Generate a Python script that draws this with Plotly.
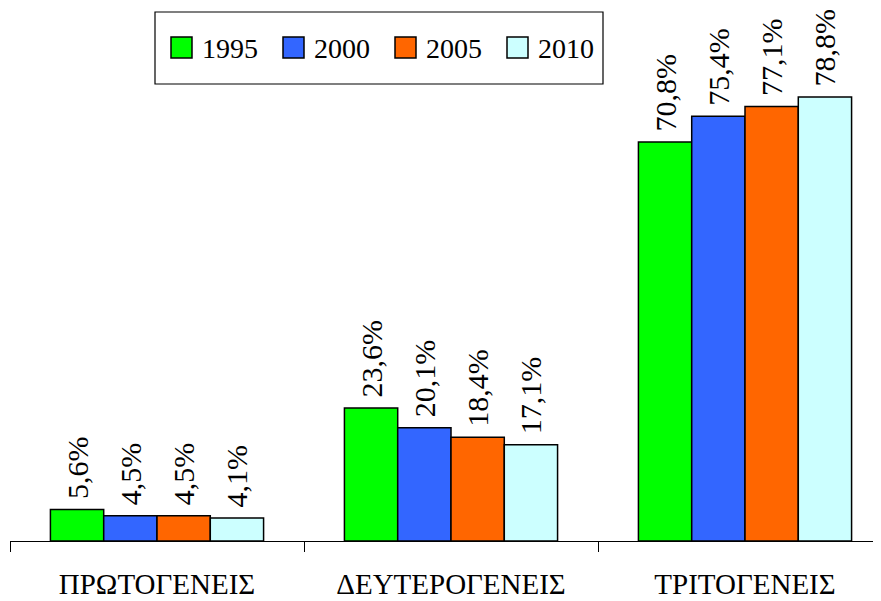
import plotly.graph_objects as go

categories = ["ΠΡΩΤΟΓΕΝΕΙΣ", "ΔΕΥΤΕΡΟΓΕΝΕΙΣ", "ΤΡΙΤΟΓΕΝΕΙΣ"]
years = ["1995", "2000", "2005", "2010"]
v1995 = [5.6, 23.6, 70.8]
v2000 = [4.5, 20.1, 75.4]
v2005 = [4.5, 18.4, 77.1]
v2010 = [4.1, 17.1, 78.8]
colors = ["#00FF00", "#3366FF", "#FF6600", "#CCFFFF"]

FONT = '"Liberation Serif", "Times New Roman", serif'
# page has an 8px body margin, so the figure is drawn 8px smaller and shifted
OFF = 8
W, H = 881 - OFF, 601 - OFF
ML, MR, MT, MB = 10 - OFF, 0, 0, 60


def px(x):
    '''page pixel x -> paper x'''
    return (x - OFF - ML) / (W - ML - MR)


def py(y):
    '''page pixel y -> paper y'''
    return (H - MB - (y - OFF)) / (H - MT - MB)


def pct(v):
    # leading nbsp gives the gap between bar top and the rotated label
    return "\u00a0" + "{:.1f}%".format(v).replace(".", ",")


fig = go.Figure()
for name, vals, col in zip(years, [v1995, v2000, v2005, v2010], colors):
    fig.add_trace(go.Bar(x=categories, y=vals, name=name,
                         marker=dict(color=col, line=dict(color="black", width=1.5)),
                         text=[pct(v) for v in vals], textposition="outside",
                         textangle=-90, cliponaxis=False, constraintext="none",
                         textfont=dict(family=FONT, size=30, color="black"),
                         showlegend=False))

# legend drawn by hand (box, swatches, labels)
shapes = [dict(type="rect", xref="paper", yref="paper",
               x0=px(155), x1=px(603), y0=py(84), y1=py(12),
               line=dict(color="black", width=1.2), fillcolor="white")]
annotations = []
for i, (name, col) in enumerate(zip(years, colors)):
    x0 = 171 + i * 112
    shapes.append(dict(type="rect", xref="paper", yref="paper",
                       x0=px(x0), x1=px(x0 + 21), y0=py(58), y1=py(37),
                       line=dict(color="black", width=1.5), fillcolor=col))
    annotations.append(dict(xref="paper", yref="paper", x=px(x0 + 29), y=py(48),
                            text=name, showarrow=False, xanchor="left", yanchor="middle",
                            font=dict(family=FONT, size=28, color="black")))

plot_h = H - MT - MB
fig.update_layout(
    width=W, height=H,
    margin=dict(l=ML, r=MR, t=MT, b=MB),
    barmode="group", bargap=0.275, bargroupgap=0,
    plot_bgcolor="white", paper_bgcolor="white",
    shapes=shapes, annotations=annotations,
    font=dict(family=FONT, color="black"),
)
fig.update_xaxes(range=[-0.5, 2.5 - 11 / 294], showline=True, linecolor="black", linewidth=1,
                 ticks="outside", tickson="boundaries", ticklen=10, tickcolor="black",
                 ticklabelstandoff=17, tickfont=dict(family=FONT, size=29, color="black"),
                 showgrid=False, automargin=False)
fig.update_yaxes(range=[0, plot_h / 5.634], visible=False, showgrid=False)

fig.write_html("out.html")
